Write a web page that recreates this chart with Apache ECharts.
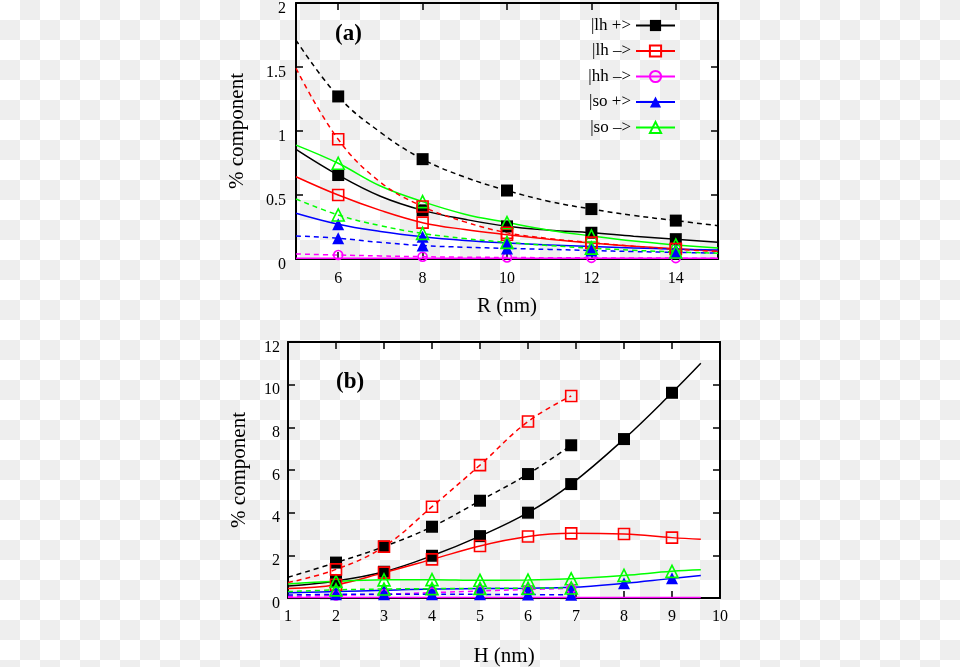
<!DOCTYPE html>
<html>
<head>
<meta charset="utf-8">
<script src="https://cdn.jsdelivr.net/npm/echarts@6/dist/echarts.min.js"></script>
<style>
html,body{margin:0;padding:0;}
body{width:960px;height:667px;background-color:#ffffff;
background-image:conic-gradient(#eeeeee 0 25%, #ffffff 0 50%, #eeeeee 0 75%, #ffffff 0 100%);
background-size:40px 40px;}
#chart{width:960px;height:667px;}
</style>
</head>
<body>
<div id="chart"></div>
<script>
// ---------- Panel (a): component vs R ----------
const R_curve = [5, 6, 7, 8, 9, 10, 11, 12, 13, 14, 15];
const R_marks = [6, 8, 10, 12, 14];
const R_ticks = [6, 8, 10, 12, 14];
const a_lhP_solid = [0.857, 0.656, 0.49, 0.38, 0.31, 0.255, 0.225, 0.205, 0.178, 0.155, 0.13];
const a_lhP_dash  = [1.71, 1.27, 0.99, 0.78, 0.64, 0.535, 0.45, 0.39, 0.34, 0.30, 0.26];
const a_lhM_solid = [0.643, 0.50, 0.38, 0.284, 0.23, 0.19, 0.155, 0.125, 0.10, 0.08, 0.062];
const a_lhM_dash  = [1.49, 0.935, 0.60, 0.41, 0.29, 0.205, 0.16, 0.128, 0.10, 0.076, 0.06];
const a_hhM_solid = [0.005, 0.005, 0.005, 0.005, 0.005, 0.005, 0.005, 0.005, 0.005, 0.005, 0.005];
const a_hhM_dash  = [0.04, 0.031, 0.024, 0.018, 0.014, 0.012, 0.01, 0.009, 0.008, 0.007, 0.006];
const a_soP_solid = [0.357, 0.271, 0.215, 0.174, 0.145, 0.125, 0.11, 0.097, 0.086, 0.077, 0.07];
const a_soP_dash  = [0.18, 0.162, 0.13, 0.105, 0.092, 0.083, 0.075, 0.066, 0.058, 0.052, 0.046];
const a_soM_solid = [0.89, 0.748, 0.57, 0.448, 0.35, 0.285, 0.225, 0.18, 0.14, 0.11, 0.085];
const a_soM_dash  = [0.469, 0.344, 0.26, 0.20, 0.16, 0.13, 0.105, 0.085, 0.068, 0.055, 0.045];

// ---------- Panel (b): component vs H ----------
const H_solid = [1, 2, 3, 4, 5, 6, 6.9, 8, 9, 9.6];
const H_dash  = [1, 2, 3, 4, 5, 6, 6.9];
const H_marks_solid = [2, 3, 4, 5, 6, 6.9, 8, 9];
const H_marks_dash  = [2, 3, 4, 5, 6, 6.9];
const b_lhP_solid = [0.56, 0.80, 1.23, 1.98, 2.90, 4.00, 5.34, 7.45, 9.62, 11.0];
const b_lhP_dash  = [0.97, 1.66, 2.41, 3.34, 4.56, 5.81, 7.16];
const b_lhM_solid = [0.45, 0.62, 1.19, 1.81, 2.44, 2.88, 3.03, 3.00, 2.83, 2.75];
const b_lhM_dash  = [0.72, 1.34, 2.41, 4.28, 6.23, 8.27, 9.47];
const b_hhM_solid = [0.02, 0.02, 0.02, 0.02, 0.02, 0.02, 0.02, 0.02, 0.02, 0.02];
const b_hhM_dash  = [0.08, 0.12, 0.18, 0.25, 0.33, 0.40, 0.45];
const b_soP_solid = [0.25, 0.30, 0.36, 0.42, 0.44, 0.46, 0.50, 0.69, 0.92, 1.05];
const b_soP_dash  = [0.14, 0.17, 0.18, 0.18, 0.17, 0.16, 0.15];
const b_soM_solid = [0.66, 0.78, 0.85, 0.86, 0.83, 0.84, 0.90, 1.06, 1.25, 1.32];
const b_soM_dash  = [0.30, 0.38, 0.42, 0.44, 0.45, 0.46, 0.47];

const stateNames = ['|lh +>', '|lh –>', '|hh –>', '|so +>', '|so –>'];
const FONT = '"Liberation Serif", "Times New Roman", serif';

// marker / line styles per state
const styles = [
  {color: '#000000', symbol: 'rect', size: 12, filled: true},
  {color: '#ff0000', symbol: 'rect', size: 11, filled: false},
  {color: '#ff00ff', symbol: 'circle', size: 9, filled: false},
  {color: '#0000ff', symbol: 'triangle', size: 12, filled: true},
  {color: '#00ff00', symbol: 'triangle', size: 12, filled: false}
];

function mk(name, stateIdx, xs, ys, marks, dashed, grid, withMarks) {
  const st = styles[stateIdx];
  const data = xs.map((x, i) => (withMarks && marks.indexOf(x) >= 0)
    ? {value: [x, ys[i]]}
    : {value: [x, ys[i]], symbol: 'none'});
  return {
    name: name,
    type: 'line',
    xAxisIndex: grid * 2,
    yAxisIndex: grid * 2,
    data: data,
    smooth: 0.4,
    symbol: st.symbol,
    symbolSize: st.size,
    showAllSymbol: true,
    lineStyle: {color: st.color, width: 1.5, type: dashed ? [5, 4] : 'solid'},
    itemStyle: st.filled
      ? {color: st.color, borderColor: st.color, borderWidth: 0}
      : {color: 'rgba(0,0,0,0)', borderColor: st.color, borderWidth: 1.6},
    emphasis: {disabled: true},
    animation: false
  };
}

const series = [
  // panel (a) solid (legend-bearing, first)
  mk(stateNames[0], 0, R_curve, a_lhP_solid, R_marks, false, 0, true),
  mk(stateNames[1], 1, R_curve, a_lhM_solid, R_marks, false, 0, true),
  mk(stateNames[2], 2, R_curve, a_hhM_solid, R_marks, false, 0, false),
  mk(stateNames[3], 3, R_curve, a_soP_solid, R_marks, false, 0, true),
  mk(stateNames[4], 4, R_curve, a_soM_solid, R_marks, false, 0, true),
  // panel (a) dashed
  mk(stateNames[0] + ' (a, dashed)', 0, R_curve, a_lhP_dash, R_marks, true, 0, true),
  mk(stateNames[1] + ' (a, dashed)', 1, R_curve, a_lhM_dash, R_marks, true, 0, true),
  mk(stateNames[2] + ' (a, dashed)', 2, R_curve, a_hhM_dash, R_marks, true, 0, true),
  mk(stateNames[3] + ' (a, dashed)', 3, R_curve, a_soP_dash, R_marks, true, 0, true),
  mk(stateNames[4] + ' (a, dashed)', 4, R_curve, a_soM_dash, R_marks, true, 0, true),
  // panel (b) solid
  mk(stateNames[0] + ' (b)', 0, H_solid, b_lhP_solid, H_marks_solid, false, 1, true),
  mk(stateNames[1] + ' (b)', 1, H_solid, b_lhM_solid, H_marks_solid, false, 1, true),
  mk(stateNames[2] + ' (b)', 2, H_solid, b_hhM_solid, H_marks_solid, false, 1, false),
  mk(stateNames[3] + ' (b)', 3, H_solid, b_soP_solid, H_marks_solid, false, 1, true),
  mk(stateNames[4] + ' (b)', 4, H_solid, b_soM_solid, H_marks_solid, false, 1, true),
  // panel (b) dashed
  mk(stateNames[0] + ' (b, dashed)', 0, H_dash, b_lhP_dash, H_marks_dash, true, 1, true),
  mk(stateNames[1] + ' (b, dashed)', 1, H_dash, b_lhM_dash, H_marks_dash, true, 1, true),
  mk(stateNames[2] + ' (b, dashed)', 2, H_dash, b_hhM_dash, H_marks_dash, true, 1, true),
  mk(stateNames[3] + ' (b, dashed)', 3, H_dash, b_soP_dash, H_marks_dash, true, 1, true),
  mk(stateNames[4] + ' (b, dashed)', 4, H_dash, b_soM_dash, H_marks_dash, true, 1, true)
];

const axisLineStyle = {onZero: false, lineStyle: {color: '#000', width: 2}};
const tickStyle = {color: '#000', width: 1.5};
const labelStyle = {fontFamily: FONT, fontSize: 16, color: '#000'};
const nameStyle = {fontFamily: FONT, fontSize: 21, color: '#000'};

function xAx(grid, min, max, extra, pos, showLabel, name, nameGap, margin) {
  const ax = {
    gridIndex: grid, type: 'value', min: min, max: max, position: pos,
    axisLine: axisLineStyle,
    axisTick: Object.assign({show: true, inside: true, length: 7, lineStyle: tickStyle}, extra.tick || {}),
    axisLabel: Object.assign({show: showLabel, margin: margin}, labelStyle, extra.label || {}),
    splitLine: {show: false}
  };
  if (extra.interval) ax.interval = extra.interval;
  if (name) { ax.name = name; ax.nameLocation = 'middle'; ax.nameGap = nameGap; ax.nameTextStyle = nameStyle; }
  return ax;
}

const xAxes = [
  xAx(0, 5, 15, {tick: {customValues: R_ticks}, label: {customValues: R_ticks}}, 'bottom', true, 'R (nm)', 37, 12),
  xAx(0, 5, 15, {tick: {customValues: R_ticks}}, 'top', false, null, 0, 8),
  xAx(1, 1, 10, {interval: 1}, 'bottom', true, 'H (nm)', 48, 11),
  xAx(1, 1, 10, {interval: 1}, 'top', false, null, 0, 8)
];

function yAx(grid, min, max, interval, pos, showLabel, name, nameGap, margin) {
  const ax = {
    gridIndex: grid, type: 'value', min: min, max: max, interval: interval, position: pos,
    axisLine: axisLineStyle,
    axisTick: {show: true, inside: true, length: 7, lineStyle: tickStyle},
    axisLabel: Object.assign({show: showLabel, margin: margin, verticalAlign: 'top', lineHeight: 11}, labelStyle),
    splitLine: {show: false}
  };
  if (name) { ax.name = name; ax.nameLocation = 'middle'; ax.nameGap = nameGap; ax.nameTextStyle = nameStyle; }
  return ax;
}

const yAxes = [
  yAx(0, 0, 2, 0.5, 'left', true, '% component', 48, 10),
  yAx(0, 0, 2, 0.5, 'right', false, null, 0, 8),
  yAx(1, 0, 12, 2, 'left', true, '% component', 38, 8),
  yAx(1, 0, 12, 2, 'right', false, null, 0, 8)
];

const chart = echarts.init(document.getElementById('chart'), null, {renderer: 'canvas'});
chart.setOption({
  animation: false,
  backgroundColor: 'transparent',
  grid: [
    {left: 296, top: 3, width: 422, height: 256, outerBoundsMode: 'none', containLabel: false},
    {left: 288, top: 342, width: 432, height: 256, outerBoundsMode: 'none', containLabel: false}
  ],
  xAxis: xAxes,
  yAxis: yAxes,
  legend: {
    data: stateNames,
    orient: 'vertical',
    align: 'right',
    right: 284,
    top: 17,
    padding: 0,
    itemWidth: 39,
    itemHeight: 14,
    itemGap: 8.5,
    selectedMode: false,
    textStyle: {fontFamily: FONT, fontSize: 17, color: '#000'}
  },
  graphic: [
    {type: 'text', left: 335, top: 23, style: {text: '(a)', font: 'bold 23px "Liberation Serif", serif', fill: '#000'}},
    {type: 'text', left: 336, top: 371, style: {text: '(b)', font: 'bold 23px "Liberation Serif", serif', fill: '#000'}}
  ],
  series: series
});
</script>
</body>
</html>
